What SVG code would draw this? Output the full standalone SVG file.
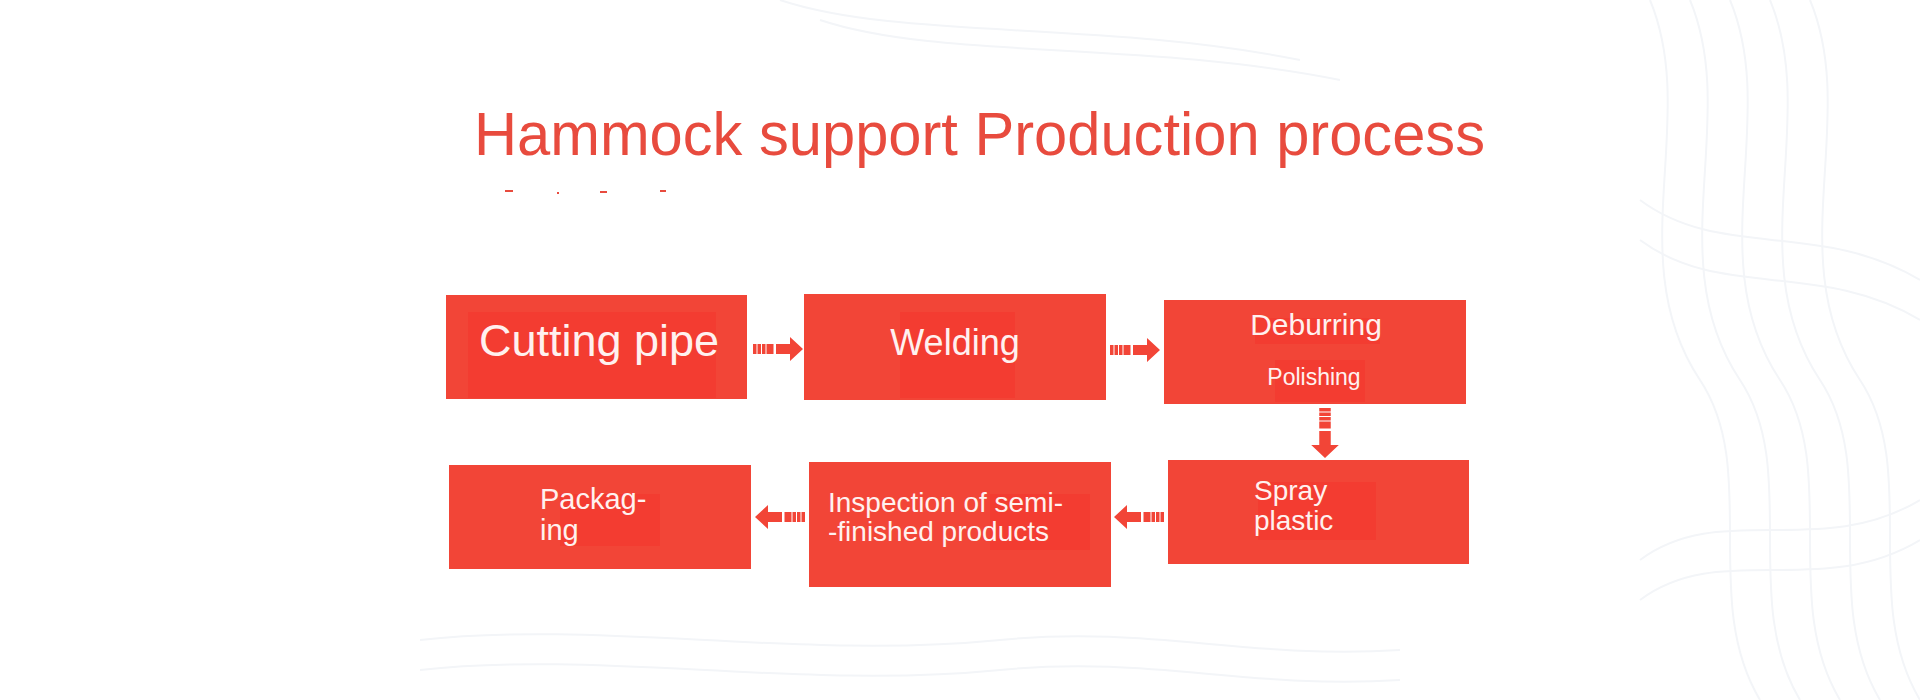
<svg xmlns="http://www.w3.org/2000/svg" width="1920" height="700" viewBox="0 0 1920 700">
<defs>
<style>
.box{fill:#F24537}
.hl{fill:#F33C31}
.t{font-family:"Liberation Sans",Arial,sans-serif;fill:#FFF1EF}
.bg{fill:none;stroke:#F3F5F8;stroke-width:2}
</style>
<g id="arrowR">
<rect x="-50" y="-5" width="3.5" height="10"/>
<rect x="-45.5" y="-5" width="3.5" height="10"/>
<rect x="-41" y="-5" width="3.5" height="10"/>
<rect x="-36.5" y="-5" width="7" height="10"/>
<path d="M-27 -5 H-13 V-12 L0 0 L-13 12 V5 H-27 Z"/>
</g>
</defs>
<rect width="1920" height="700" fill="#FFFFFF"/>
<g id="background">
<path class="bg" d="M1650 0 C1700 120 1620 260 1700 380 C1760 470 1700 600 1760 700"/>
<path class="bg" d="M1690 0 C1740 120 1660 260 1740 380 C1800 470 1740 600 1800 700"/>
<path class="bg" d="M1730 0 C1780 120 1700 260 1780 380 C1840 470 1780 600 1840 700"/>
<path class="bg" d="M1770 0 C1820 120 1740 260 1820 380 C1880 470 1820 600 1880 700"/>
<path class="bg" d="M1810 0 C1860 120 1780 260 1860 380 C1920 470 1860 600 1920 700"/>
<path class="bg" d="M1640 200 C1720 260 1820 220 1920 280"/>
<path class="bg" d="M1640 240 C1720 300 1820 260 1920 320"/>
<path class="bg" d="M1640 560 C1720 500 1820 560 1920 500"/>
<path class="bg" d="M1640 600 C1720 540 1820 600 1920 540"/>
<path class="bg" d="M780 0 C900 40 1100 20 1300 60"/>
<path class="bg" d="M820 20 C940 60 1140 40 1340 80"/>
<path class="bg" d="M420 640 C600 620 800 660 1000 640 C1150 625 1250 660 1400 650"/>
<path class="bg" d="M420 670 C600 650 800 690 1000 670 C1150 655 1250 690 1400 680"/>
</g>
<text x="474" y="155" class="t" style="fill:#E84B3E" font-size="62" textLength="1011" lengthAdjust="spacingAndGlyphs">Hammock support Production process</text>
<g fill="#E84B3E">
<rect x="505" y="190" width="8" height="2"/>
<rect x="557" y="192" width="2" height="2"/>
<rect x="600" y="191" width="7" height="2"/>
<rect x="660" y="190" width="6" height="2"/>
</g>
<g id="connectors" fill="#F24537">
<use href="#arrowR" transform="translate(803 349)"/>
<use href="#arrowR" transform="translate(1160 350)"/>
<use href="#arrowR" transform="translate(1325 458) rotate(90) scale(1 1.15)"/>
<use href="#arrowR" transform="translate(1114 517) rotate(180)"/>
<use href="#arrowR" transform="translate(755 517) rotate(180)"/>
</g>
<g id="node-cutting">
<rect class="box" x="446" y="295" width="301" height="104"/>
<rect class="hl" x="468" y="312" width="248" height="86"/>
<text class="t" x="599" y="356" font-size="45" text-anchor="middle">Cutting pipe</text>
</g>
<g id="node-welding">
<rect class="box" x="804" y="294" width="302" height="106"/>
<rect class="hl" x="900" y="312" width="115" height="86"/>
<text class="t" x="955" y="355" font-size="36" text-anchor="middle">Welding</text>
</g>
<g id="node-deburring">
<rect class="box" x="1164" y="300" width="302" height="104"/>
<rect class="hl" x="1255" y="318" width="125" height="26"/>
<rect class="hl" x="1275" y="360" width="90" height="42"/>
<text class="t" x="1316" y="335" font-size="30" text-anchor="middle">Deburring</text>
<text class="t" x="1314" y="385" font-size="23" text-anchor="middle">Polishing</text>
</g>
<g id="node-spray">
<rect class="box" x="1168" y="460" width="301" height="104"/>
<rect class="hl" x="1258" y="482" width="118" height="58"/>
<text class="t" x="1254" y="500" font-size="28">Spray</text>
<text class="t" x="1254" y="530" font-size="28">plastic</text>
</g>
<g id="node-inspection">
<rect class="box" x="809" y="462" width="302" height="125"/>
<rect class="hl" x="990" y="494" width="100" height="56"/>
<text class="t" x="828" y="512" font-size="28">Inspection of semi-</text>
<text class="t" x="828" y="541" font-size="28">-finished products</text>
</g>
<g id="node-packaging">
<rect class="box" x="449" y="465" width="302" height="104"/>
<rect class="hl" x="560" y="494" width="100" height="52"/>
<text class="t" x="540" y="509" font-size="29">Packag-</text>
<text class="t" x="540" y="540" font-size="29">ing</text>
</g>
</svg>
